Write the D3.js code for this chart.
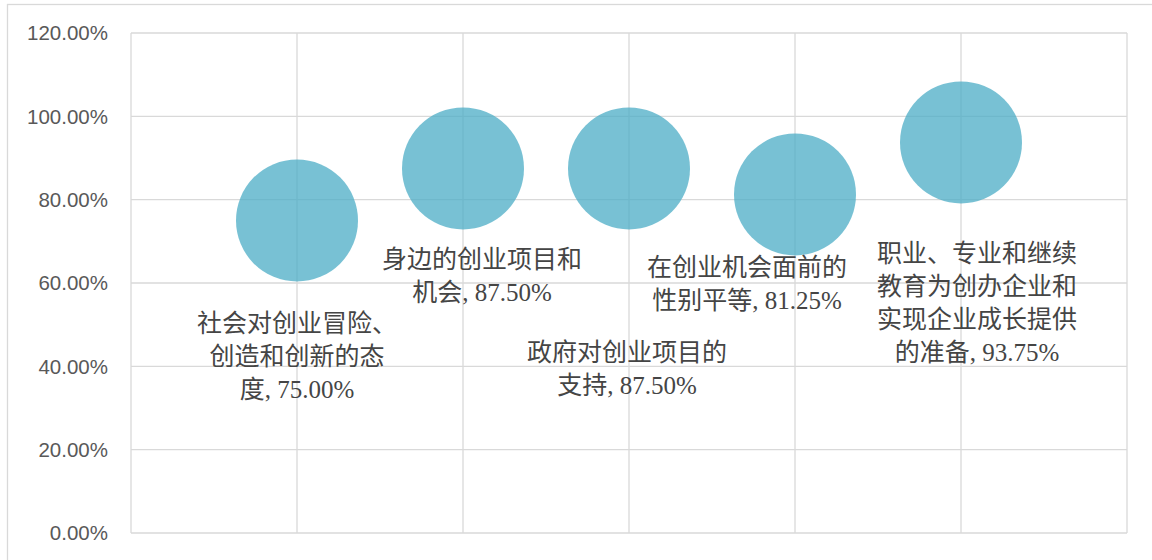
<!DOCTYPE html>
<html>
<head>
<meta charset="utf-8">
<script src="https://cdn.jsdelivr.net/npm/d3@7"></script>
<style>
  html, body { margin: 0; padding: 0; background: #fff; }
  svg { display: block; }
</style>
</head>
<body>
<svg id="chart" width="1152" height="560"></svg>
<script>
// ---- data ----
const categories = [
  "社会对创业冒险、创造和创新的态度",
  "身边的创业项目和机会",
  "政府对创业项目的支持",
  "在创业机会面前的性别平等",
  "职业、专业和继续教育为创办企业和实现企业成长提供的准备"
];
const xPositions = [1, 2, 3, 4, 5];
const values = [0.75, 0.875, 0.875, 0.8125, 0.9375];
const bubbleSizes = [1, 1, 1, 1, 1];
const yTicks = [0, 0.2, 0.4, 0.6, 0.8, 1.0, 1.2];
const xGrid = [0, 1, 2, 3, 4, 5, 6];
// label wrapping (characters per line, as in the picture)
const labelBreaks = [
  [8, 7],
  [8],
  [8],
  [8],
  [8, 8, 8]
];

// ---- layout ----
const W = 1152, H = 560;
const plot = { left: 131, right: 1127, top: 33, bottom: 533 };
const labelOffsets = [[0, 111], [19, 100], [-2, 193], [-48, 82], [16, 120]];
const lineH = 33;
const gridColor = "#d9d9d9";

const svg = d3.select("#chart");

svg.append("rect")
  .attr("x", 7.5).attr("y", 4.5)
  .attr("width", W + 20).attr("height", H + 20)
  .attr("fill", "#fff").attr("stroke", gridColor).attr("stroke-width", 1.3);

const x = d3.scaleLinear().domain([0, 6]).range([plot.left, plot.right]);
const y = d3.scaleLinear().domain([0, 1.2]).range([plot.bottom, plot.top]);
const r = d3.scaleSqrt().domain([0, 1]).range([0, 61]);

// gridlines
svg.append("g").selectAll("line.h").data(yTicks).join("line")
  .attr("x1", plot.left).attr("x2", plot.right)
  .attr("y1", d => y(d)).attr("y2", d => y(d))
  .attr("stroke", gridColor).attr("stroke-width", 1.3);
svg.append("g").selectAll("line.v").data(xGrid).join("line")
  .attr("y1", plot.top).attr("y2", plot.bottom)
  .attr("x1", d => x(d)).attr("x2", d => x(d))
  .attr("stroke", gridColor).attr("stroke-width", 1.3);

// y axis labels
const yAxis = d3.axisLeft(y).tickValues(yTicks).tickFormat(d3.format(".2%")).tickSize(0).tickPadding(23);
const yg = svg.append("g").attr("transform", `translate(${plot.left},0)`).call(yAxis);
yg.select(".domain").remove();
yg.selectAll("text")
  .attr("fill", "#595959")
  .style("font-family", "'Liberation Sans', Arial, sans-serif")
  .style("font-size", "20.5px")
  .attr("dy", "0.34em");

// bubbles
const pts = categories.map((c, i) => ({ c, x: xPositions[i], v: values[i], s: bubbleSizes[i], i }));
svg.append("g").selectAll("circle").data(pts).join("circle")
  .attr("cx", d => x(d.x)).attr("cy", d => y(d.v)).attr("r", d => r(d.s))
  .attr("fill", "#4bacc6").attr("fill-opacity", 0.75);

// labels
const fmt = d3.format(".2%");
function wrap(text, breaks) {
  const lines = [];
  let pos = 0;
  for (const b of breaks) { lines.push(text.slice(pos, pos + b)); pos += b; }
  lines.push(text.slice(pos));
  return lines;
}
const lg = svg.append("g");
pts.forEach(d => {
  const lines = wrap(d.c, labelBreaks[d.i]);
  lines[lines.length - 1] += ", " + fmt(d.v);
  const t = lg.append("text")
    .attr("text-anchor", "middle")
    .attr("fill", "#454545")
    .style("font-family", "'Liberation Serif', 'Noto Sans CJK SC', serif")
    .style("font-size", "25px");
  const cx = x(d.x) + labelOffsets[d.i][0];
  const cy = y(d.v) + labelOffsets[d.i][1];
  lines.forEach((ln, k) => {
    t.append("tspan").attr("x", cx).attr("y", cy + k * lineH).text(ln);
  });
});
</script>
</body>
</html>
